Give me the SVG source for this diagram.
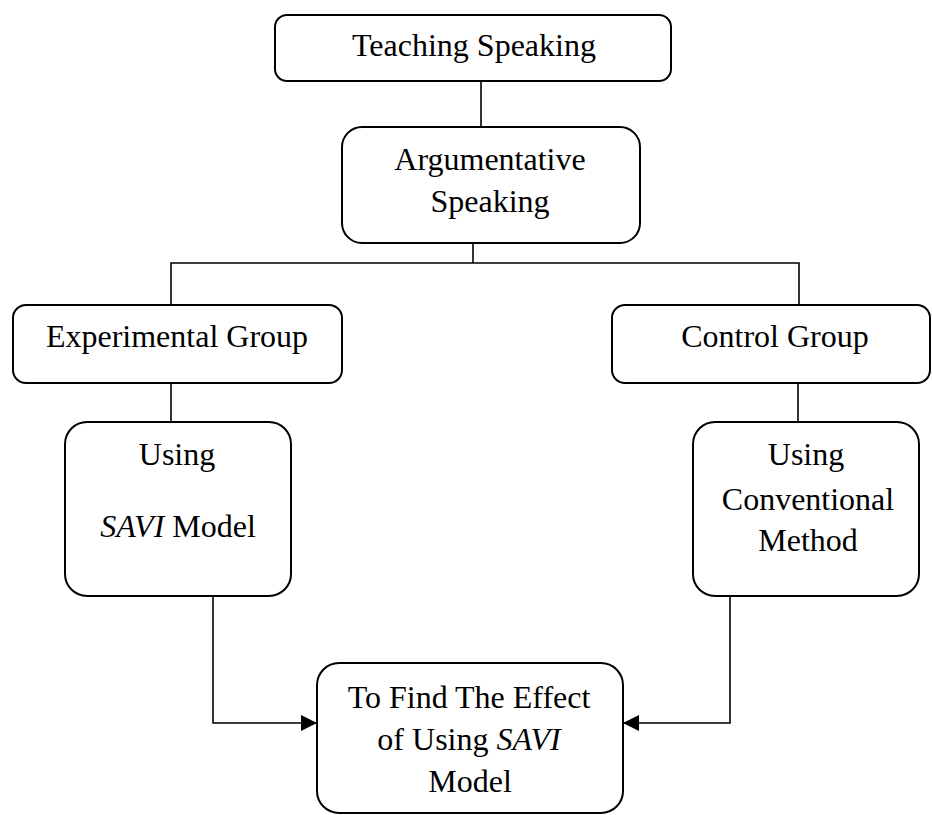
<svg xmlns="http://www.w3.org/2000/svg" width="932" height="815" viewBox="0 0 932 815">
<style>
.box{fill:#fff;stroke:#000;stroke-width:2}
.ln{fill:none;stroke:#000;stroke-width:1.6}
.t{font-family:"Liberation Serif","Times New Roman",serif;font-size:32px;fill:#000;text-anchor:middle}
.i{font-style:italic}
</style>
<defs>
<marker id="ah" markerUnits="userSpaceOnUse" markerWidth="16" markerHeight="16" refX="16" refY="8" orient="auto">
<path d="M0,0 L16,8 L0,16 Z" fill="#000"/>
</marker>
</defs>
<rect width="932" height="815" fill="#fff"/>
<g id="connectors">
<path class="ln" d="M481,81 V127"/>
<path class="ln" d="M473,243 V263"/>
<path class="ln" d="M171,305 V263 H799 V305"/>
<path class="ln" d="M171,383 V422"/>
<path class="ln" d="M798,383 V422"/>
<path class="ln" d="M213,596 V723 H317" marker-end="url(#ah)"/>
<path class="ln" d="M730,596 V723 H623" marker-end="url(#ah)"/>
</g>
<g id="teaching">
<rect class="box" x="275" y="15" width="396" height="66" rx="12"/>
<text class="t" x="474" y="56">Teaching Speaking</text>
</g>
<g id="argumentative">
<rect class="box" x="342" y="127" width="298" height="116" rx="20"/>
<text class="t" x="490" y="170">Argumentative</text>
<text class="t" x="490" y="212">Speaking</text>
</g>
<g id="experimental">
<rect class="box" x="13" y="305" width="329" height="78" rx="13"/>
<text class="t" x="177" y="347">Experimental Group</text>
</g>
<g id="control">
<rect class="box" x="612" y="305" width="318" height="78" rx="13"/>
<text class="t" x="775" y="347">Control Group</text>
</g>
<g id="savi">
<rect class="box" x="65" y="422" width="226" height="174" rx="22"/>
<text class="t" x="177" y="465">Using</text>
<text class="t" x="178" y="537"><tspan class="i">SAVI</tspan> Model</text>
</g>
<g id="conventional">
<rect class="box" x="693" y="422" width="226" height="174" rx="22"/>
<text class="t" x="806" y="465">Using</text>
<text class="t" x="808" y="510">Conventional</text>
<text class="t" x="808" y="551">Method</text>
</g>
<g id="effect">
<rect class="box" x="317" y="663" width="306" height="150" rx="22"/>
<text class="t" x="469" y="708">To Find The Effect</text>
<text class="t" x="469" y="750">of Using <tspan class="i">SAVI</tspan></text>
<text class="t" x="470" y="792">Model</text>
</g>
</svg>
